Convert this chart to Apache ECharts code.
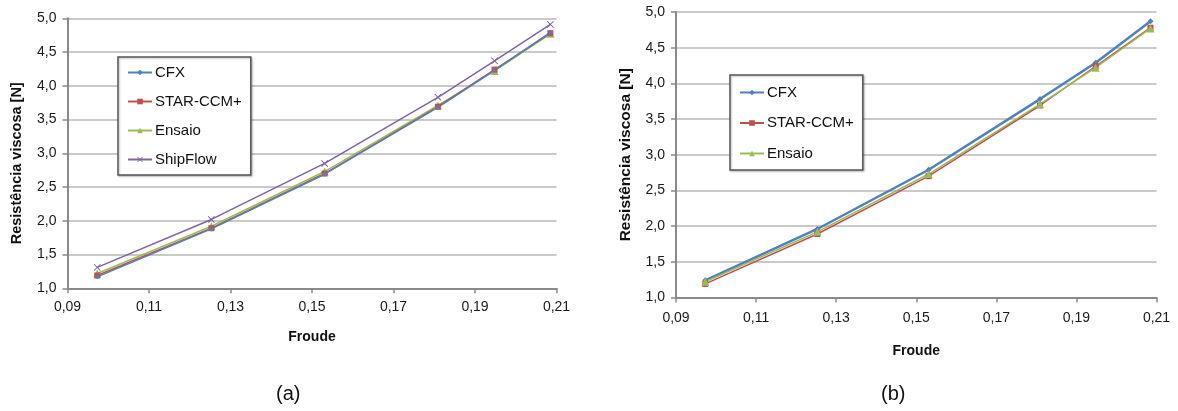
<!DOCTYPE html>
<html>
<head>
<meta charset="utf-8">
<script src="https://cdn.jsdelivr.net/npm/echarts@6/dist/echarts.min.js"></script>
<style>
  html, body { margin: 0; padding: 0; background: #fff; }
  #wrap { position: relative; width: 1178px; height: 411px; }
  #chartA { position: absolute; left: 0; top: 0; width: 590px; height: 411px; }
  #chartB { position: absolute; left: 590px; top: 0; width: 588px; height: 411px; }
</style>
</head>
<body>
<div id="wrap">
  <div id="chartA"></div>
  <div id="chartB"></div>
</div>
<script>
// Froude numbers of the tested speeds
const froude = [0.0973, 0.1253, 0.1531, 0.1809, 0.1948, 0.2085];

// Viscous resistance [N]
const cfxA     = [1.17, 1.88, 2.69, 3.68, 4.23, 4.79];
const cfxB     = [1.24, 1.96, 2.79, 3.78, 4.29, 4.87];
const starCcm  = [1.19, 1.89, 2.70, 3.69, 4.24, 4.78];
const ensaio   = [1.22, 1.92, 2.73, 3.71, 4.22, 4.77];
const shipFlow = [1.31, 2.02, 2.85, 3.83, 4.37, 4.91];

// Tick labels (comma decimal separator)
const xTickLabels = ['0,09', '0,11', '0,13', '0,15', '0,17', '0,19', '0,21'];
const yTickLabels = ['1,0', '1,5', '2,0', '2,5', '3,0', '3,5', '4,0', '4,5', '5,0'];

const FONT = "'Liberation Sans', Arial, sans-serif";
const COLORS = { cfx: '#4F81BD', star: '#C0504D', ensaio: '#9BBB59', ship: '#8064A2' };
const CROSS = 'path://M0,1L1,0L5,4L9,0L10,1L6,5L10,9L9,10L5,6L1,10L0,9L4,5Z';

function pairs(ys) { return froude.map((x, i) => [x, ys[i]]); }

function lineSeries(name, ys, color, symbol, size, width) {
  return {
    name, type: 'line', data: pairs(ys),
    symbol, symbolSize: size, showSymbol: true,
    lineStyle: { color, width },
    itemStyle: { color },
    emphasis: { disabled: true },
    animation: false, z: 3
  };
}

function buildOption(cfg) {
  return {
    animation: false,
    textStyle: { fontFamily: FONT },
    grid: cfg.grid,
    legend: {
      orient: 'vertical',
      left: cfg.legend.left, top: cfg.legend.top,
      padding: cfg.legend.padding,
      itemGap: cfg.legend.gap,
      itemWidth: 24, itemHeight: 7,
      backgroundColor: '#fff',
      borderColor: '#555', borderWidth: 1.5, borderRadius: 0,
      shadowColor: 'rgba(0,0,0,0.25)', shadowBlur: 2, shadowOffsetX: 1, shadowOffsetY: 1,
      textStyle: { fontFamily: FONT, fontSize: 15, color: '#111', padding: [0, 0, 0, -2] },
      selectedMode: false,
      data: cfg.legend.data
    },
    xAxis: {
      type: 'value', min: 0.09, max: 0.21, interval: 0.02,
      name: 'Froude', nameLocation: 'middle', nameGap: cfg.xNameGap,
      nameTextStyle: { fontFamily: FONT, fontSize: 14, fontWeight: 'bold', color: '#111' },
      axisLine: { show: true, lineStyle: { color: '#8a8a8a', width: 2 } },
      axisTick: { show: true, length: 5, lineStyle: { color: '#8a8a8a', width: 1.5 } },
      axisLabel: { fontSize: 14, color: '#1a1a1a', margin: cfg.xLabelMargin,
        formatter: (v, i) => xTickLabels[i] },
      splitLine: { show: false }
    },
    yAxis: {
      type: 'value', min: 1, max: 5, interval: 0.5,
      name: 'Resistência viscosa [N]', nameLocation: 'middle', nameGap: cfg.yNameGap,
      nameRotate: 90,
      nameTextStyle: { fontFamily: FONT, fontSize: cfg.yNameSize, fontWeight: 'bold', color: '#111',
        padding: cfg.yNamePadding },
      axisLine: { show: true, lineStyle: { color: '#8a8a8a', width: 2 } },
      axisTick: { show: true, length: 5, lineStyle: { color: '#8a8a8a', width: 1.5 } },
      axisLabel: { fontSize: 14, color: '#1a1a1a', margin: 11,
        formatter: (v, i) => yTickLabels[i] },
      splitLine: { show: true, lineStyle: { color: '#b8b8b8', width: 1.5 } }
    },
    graphic: [{
      type: 'text', left: cfg.caption.x, top: cfg.caption.y,
      style: { text: cfg.caption.text, font: '20px ' + FONT, fill: '#111' }
    }],
    series: cfg.series
  };
}

const chartA = echarts.init(document.getElementById('chartA'), null, { renderer: 'canvas' });
chartA.setOption(buildOption({
  grid: { left: 67.5, top: 18.3, width: 489, height: 270 },
  legend: { left: 118, top: 57, padding: [8, 9, 8, 9], gap: 14,
    data: ['CFX', 'STAR-CCM+', 'Ensaio', 'ShipFlow'] },
  xNameGap: 42, xLabelMargin: 12, yNameGap: 43, yNameSize: 14.5, yNamePadding: [0, 20, 0, 0],
  caption: { text: '(a)', x: 276, y: 384 },
  series: [
    lineSeries('ShipFlow', shipFlow, COLORS.ship, CROSS, 7, 1.5),
    lineSeries('Ensaio', ensaio, COLORS.ensaio, 'triangle', 8, 1.5),
    lineSeries('STAR-CCM+', starCcm, COLORS.star, 'rect', 6, 1.5),
    lineSeries('CFX', cfxA, COLORS.cfx, 'diamond', 5, 1.5)
  ]
}));

const chartB = echarts.init(document.getElementById('chartB'), null, { renderer: 'canvas' });
chartB.setOption(buildOption({
  grid: { left: 86, top: 12, width: 480.5, height: 285.5 },
  legend: { left: 140, top: 75, padding: [10, 9, 9, 9], gap: 15.5,
    data: ['CFX', 'STAR-CCM+', 'Ensaio'] },
  xNameGap: 47, xLabelMargin: 14, yNameGap: 42, yNameSize: 15.5, yNamePadding: [0, 0, 0, 0],
  caption: { text: '(b)', x: 291, y: 384 },
  series: [
    lineSeries('CFX', cfxB, COLORS.cfx, 'diamond', 6, 2.5),
    lineSeries('STAR-CCM+', starCcm, COLORS.star, 'rect', 6, 1.5),
    lineSeries('Ensaio', ensaio, COLORS.ensaio, 'triangle', 8, 1.5)
  ]
}));
</script>
</body>
</html>
